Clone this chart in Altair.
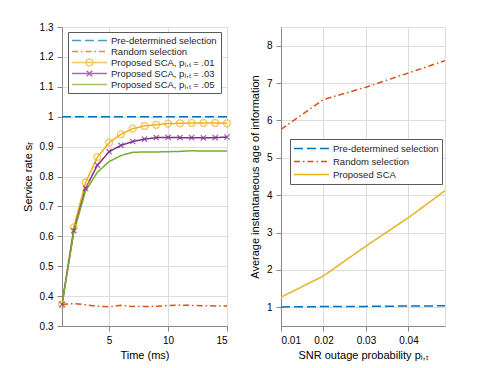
import altair as alt
import pandas as pd

# ---------------- data: left panel ----------------
time_ms = [1, 2, 3, 4, 5, 6, 7, 8, 9, 10, 11, 12, 13, 14, 15]
sr_predet = [1.0, 1.0, 1.0, 1.0, 1.0, 1.0, 1.0, 1.0, 1.0, 1.0, 1.0, 1.0, 1.0, 1.0, 1.0]
sr_random = [0.372, 0.375, 0.371, 0.366, 0.364, 0.369, 0.365, 0.365, 0.366, 0.368, 0.370, 0.369, 0.368, 0.367, 0.367]
sr_sca01 = [0.372, 0.630, 0.780, 0.865, 0.913, 0.941, 0.960, 0.969, 0.973, 0.977, 0.978, 0.979, 0.979, 0.979, 0.978]
sr_sca03 = [0.372, 0.619, 0.760, 0.838, 0.883, 0.904, 0.917, 0.925, 0.930, 0.931, 0.930, 0.930, 0.929, 0.930, 0.932]
sr_sca05 = [0.372, 0.614, 0.752, 0.814, 0.850, 0.870, 0.881, 0.882, 0.882, 0.883, 0.884, 0.886, 0.885, 0.885, 0.885]

left_names = [
    "Pre-determined selection",
    "Random selection",
    "Proposed SCA,  p\u1d62,\u209c = .01",
    "Proposed SCA,  p\u1d62,\u209c = .03",
    "Proposed SCA,  p\u1d62,\u209c = .05",
]

# ---------------- data: right panel ----------------
p_out = [0.01, 0.02, 0.03, 0.04, 0.0486]
aoi_predet = [1.01, 1.02, 1.025, 1.035, 1.04]
aoi_random = [5.76, 6.56, 6.89, 7.27, 7.60]
aoi_sca = [1.27, 1.84, 2.64, 3.40, 4.12]

right_names = ["Pre-determined selection", "Random selection", "Proposed SCA"]

# ---------------- style ----------------
BLUE, ORANGE, YELLOW, PURPLE, GREEN = "#0072BD", "#D95319", "#EDB120", "#7E2F8E", "#77AC30"
DASH = [9, 4]
DASHDOT = [6, 3, 1.5, 3]
SOLID = [1, 0]
LINE = "M-1,0L1,0"
LINE_O = "M-1,0L1,0M0.2,0A0.2,0.2,0,1,1,-0.2,0A0.2,0.2,0,1,1,0.2,0"
LINE_X = "M-1,0L1,0M-0.16,-0.16L0.16,0.16M0.16,-0.16L-0.16,0.16"
XMARK = "M-1,-1L1,1M1,-1L-1,1"
FONT = "Liberation Sans"
TXT = "#262626"

rows = []
for name, vals in zip(left_names, [sr_predet, sr_random, sr_sca01, sr_sca03, sr_sca05]):
    for t, v in zip(time_ms, vals):
        rows.append({"t": t, "v": v, "series": name})
left_df = pd.DataFrame(rows)

rows = []
for name, vals in zip(right_names, [aoi_predet, aoi_random, aoi_sca]):
    for p, v in zip(p_out, vals):
        rows.append({"p": p, "v": v, "series": name})
right_df = pd.DataFrame(rows)


def legend_obj(x, y, clip):
    return alt.Legend(
        title=None, orient="none", legendX=x, legendY=y,
        symbolSize=1225, symbolStrokeWidth=1.4, clipHeight=clip,
        labelFontSize=9.5, labelFont=FONT, labelColor=TXT, labelOffset=3,
        fillColor="white", strokeColor="#5a5a5a", padding=3, rowPadding=0,
        symbolType="stroke",
    )


def build(df, xfield, xscale, xaxis, yscale, yaxis, names, colors, dashes, shapes, lx, ly, clip):
    lg = legend_obj(lx, ly, clip)
    col = alt.Color("series:N", scale=alt.Scale(domain=names, range=colors), legend=lg)
    dash = alt.StrokeDash("series:N", scale=alt.Scale(domain=names, range=dashes), legend=lg)
    shp = alt.Shape("series:N", scale=alt.Scale(domain=names, range=shapes), legend=lg)
    x = alt.X(f"{xfield}:Q", scale=xscale, axis=xaxis)
    y = alt.Y("v:Q", scale=yscale, axis=yaxis)
    lines = alt.Chart(df).mark_line(strokeWidth=1.5, clip=True).encode(
        x=x, y=y, color=col, strokeDash=dash, detail="series:N"
    )
    leg = alt.Chart(df).mark_point(filled=False, strokeWidth=1.4, opacity=1).encode(
        x=x, y=y, color=col, strokeDash=dash, shape=shp,
    ).transform_filter("datum.v > 1000")
    return lines, leg, x, y, col


# ---------------- left panel ----------------
lx_scale = alt.Scale(domain=[1, 15], nice=False, zero=False)
ly_scale = alt.Scale(domain=[0.3, 1.3], nice=False, zero=False)
lx_axis = alt.Axis(values=[5, 10, 15], title="Time (ms)", labelPadding=4, titlePadding=4,
                   titleFontWeight=400)
ly_axis = alt.Axis(values=[0.3, 0.4, 0.5, 0.6, 0.7, 0.8, 0.9, 1.0, 1.1, 1.2, 1.3],
                   format=".1~f", title="Service rate  s\u1d63", labelPadding=4, titlePadding=6,
                   titleFontWeight=400)
l_lines, l_leg, lx, ly, lcol = build(
    left_df, "t", lx_scale, lx_axis, ly_scale, ly_axis, left_names,
    [BLUE, ORANGE, YELLOW, PURPLE, GREEN], [DASH, DASHDOT, SOLID, SOLID, SOLID],
    [LINE, LINE, LINE_O, LINE_X, LINE], 6, 5, 11)
circ = alt.Chart(left_df).mark_point(shape="circle", size=48, filled=False, strokeWidth=1.3).encode(
    x=lx, y=ly, color=lcol).transform_filter(alt.datum.series == left_names[2])
xm = alt.Chart(left_df).mark_point(shape=XMARK, size=28, filled=False, strokeWidth=1.3).encode(
    x=lx, y=ly, color=lcol).transform_filter(alt.datum.series == left_names[3])
left = alt.layer(l_lines, circ, xm, l_leg).properties(width=165, height=299)

# ---------------- right panel ----------------
rx_scale = alt.Scale(domain=[0.01, 0.0486], nice=False, zero=False)
ry_scale = alt.Scale(domain=[0.5, 8.5], nice=False, zero=False)
rx_axis = alt.Axis(values=[0.01, 0.02, 0.03, 0.04], format=".2f",
                   title="SNR outage probability  p\u1d62,\u209c", labelPadding=4, titlePadding=4,
                   titleFontWeight=400)
ry_axis = alt.Axis(values=[1, 2, 3, 4, 5, 6, 7, 8], format="d",
                   title="Average instantaneous age of information", labelPadding=4, titlePadding=6,
                   titleFontWeight=400)
r_lines, r_leg, rx, ry, rcol = build(
    right_df, "p", rx_scale, rx_axis, ry_scale, ry_axis, right_names,
    [BLUE, ORANGE, YELLOW], [DASH, DASHDOT, SOLID], [LINE, LINE, LINE], 9, 112, 13)
right = alt.layer(r_lines, r_leg).properties(width=164, height=299)

chart = alt.hconcat(left, right, spacing=14).resolve_scale(
    color="independent", strokeDash="independent", shape="independent"
).resolve_legend(
    color="independent", strokeDash="independent", shape="independent"
).properties(
    padding={"top": 13, "left": 13, "right": 5, "bottom": 5}
).configure_view(
    stroke=TXT, strokeWidth=0.8
).configure_axis(
    labelFont=FONT, titleFont=FONT, labelFontSize=10, titleFontSize=11,
    labelColor=TXT, titleColor=TXT, titleFontWeight=400,
    ticks=False, domain=False, grid=True, gridColor="#e3e3e3", gridWidth=0.8,
).configure(background="white")

chart.save("out.html", embed_options={"renderer": "svg", "actions": False})
